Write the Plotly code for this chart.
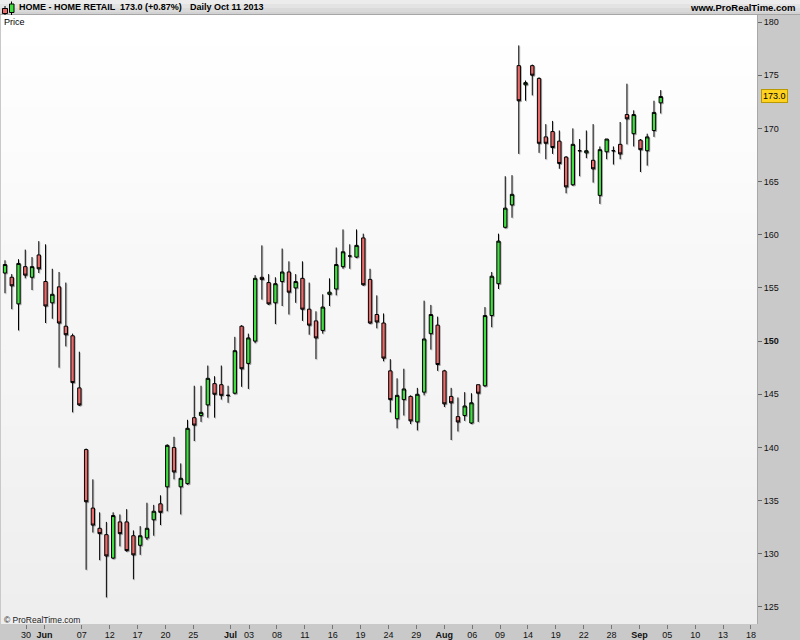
import plotly.graph_objects as go

# ---------------- data ----------------
opens = [156.4, 156.0, 153.5, 157.0, 156.0, 158.1, 155.6, 153.6, 155.1, 151.4,
         150.5, 145.6, 139.8, 134.3, 132.4, 131.8, 129.6, 133.0, 133.0, 131.7,
         130.8, 131.5, 133.2, 134.7, 136.3, 140.0, 136.3, 136.6, 142.8, 143.0,
         144.0, 146.0, 145.9, 144.9, 145.1, 151.4, 147.9, 150.0, 156.0, 155.5,
         153.6, 155.6, 156.5, 155.0, 155.9, 153.0, 151.9, 151.0, 154.4, 154.9,
         157.0, 158.0, 157.9, 159.7, 155.8, 152.5, 151.7, 147.2, 142.7, 144.5,
         144.8, 142.4, 145.2, 150.7, 151.5, 147.2, 144.8, 142.9, 143.0, 142.3,
         145.9, 145.8, 152.4, 155.4, 160.7, 162.8, 175.9, 174.1, 175.9, 174.7,
         169.2, 169.7, 168.8, 167.3, 164.7, 167.9, 167.7, 167.0, 163.7, 167.8,
         167.9, 168.5, 171.3, 169.5, 168.9, 167.9, 169.8, 172.4]
highs = [157.6, 156.3, 157.7, 158.6, 157.9, 159.4, 159.1, 156.8, 156.5, 155.5,
         150.7, 149.0, 139.9, 137.0, 133.9, 133.0, 133.9, 133.7, 134.2, 132.2,
         132.6, 134.8, 134.6, 135.5, 140.3, 141.0, 138.5, 142.6, 145.8, 145.8,
         147.7, 146.7, 147.7, 145.8, 150.4, 151.5, 150.7, 156.2, 159.0, 156.3,
         156.0, 158.7, 157.5, 156.3, 157.5, 155.5, 152.8, 154.4, 155.9, 158.8,
         160.5, 159.1, 160.5, 160.1, 156.8, 154.3, 152.6, 148.3, 146.5, 147.4,
         144.9, 145.6, 153.8, 153.4, 152.3, 147.3, 145.6, 144.7, 145.2, 145.1,
         145.9, 153.2, 156.5, 160.1, 165.5, 165.6, 177.8, 174.5, 176.0, 174.8,
         170.4, 170.7, 169.8, 167.4, 170.0, 169.0, 169.8, 170.4, 168.3, 169.0,
         168.3, 170.6, 174.2, 171.7, 169.0, 169.5, 172.6, 173.6]
lows = [154.5, 153.0, 151.0, 155.9, 154.8, 156.4, 151.7, 152.1, 147.5, 149.5,
        143.3, 143.9, 128.5, 132.0, 129.4, 125.9, 129.5, 130.7, 130.2, 127.6,
        129.9, 131.3, 131.7, 132.7, 134.0, 137.0, 133.7, 136.5, 140.6, 142.4,
        142.8, 142.8, 144.5, 144.2, 145.0, 145.7, 145.5, 149.8, 153.9, 153.4,
        151.6, 153.3, 152.5, 153.6, 151.9, 150.6, 148.3, 150.7, 153.3, 154.3,
        156.8, 156.8, 157.8, 155.2, 151.6, 151.2, 148.1, 143.3, 141.8, 143.0,
        142.2, 141.6, 144.9, 149.2, 147.2, 143.8, 140.7, 141.5, 142.5, 142.2,
        142.4, 145.7, 151.3, 154.9, 160.6, 161.6, 167.6, 172.6, 173.1, 167.7,
        167.1, 167.6, 166.2, 163.9, 164.6, 165.5, 167.2, 164.9, 162.9, 167.1,
        166.6, 167.1, 168.5, 168.3, 165.9, 166.5, 169.2, 171.4]
closes = [157.2, 155.2, 157.3, 156.2, 157.0, 156.8, 153.3, 154.4, 151.7, 150.6,
          146.1, 144.0, 134.9, 132.7, 131.9, 129.8, 133.6, 131.9, 130.3, 129.9,
          131.7, 132.4, 134.0, 133.9, 140.2, 137.7, 137.1, 141.8, 142.1, 143.3,
          146.5, 145.0, 144.9, 144.9, 149.1, 147.4, 150.3, 155.9, 155.8, 153.5,
          155.4, 156.5, 154.6, 155.6, 153.0, 151.5, 150.3, 153.2, 154.6, 157.2,
          158.4, 158.0, 159.0, 155.3, 151.7, 151.8, 148.4, 144.5, 144.9, 145.5,
          142.5, 145.0, 150.2, 152.5, 147.8, 144.1, 144.2, 142.4, 143.9, 144.2,
          145.1, 152.4, 156.1, 159.4, 162.5, 163.8, 172.6, 174.3, 175.0, 168.6,
          168.6, 168.2, 166.7, 164.5, 168.5, 167.9, 167.9, 166.2, 168.0, 169.0,
          167.9, 167.6, 170.9, 171.3, 168.0, 169.2, 171.5, 173.0]
bar_index = list(range(len(opens)))

# date axis (trading-day counts from 30 May) and its labels
tick_days = [0, 2, 6, 9, 12, 15, 18, 22, 24, 27, 30, 33, 36, 39, 42,
             45, 48, 51, 54, 57, 60, 63, 66, 69, 72, 75, 78]
tick_labels = ["30", "<b>Jun</b>", "07", "12", "17", "20", "25", "<b>Jul</b>", "03",
               "08", "11", "16", "19", "24", "29", "<b>Aug</b>", "06", "09", "14",
               "19", "22", "28", "<b>Sep</b>", "05", "10", "13", "18"]
y_ticks = [125, 130, 135, 140, 145, 150, 155, 160, 165, 170, 175, 180]
y_tick_text = ["<b>150</b>" if v == 150 else str(v) for v in y_ticks]
last_price = 173.0
title_name = "HOME - HOME RETAIL"
title_change = "173.0 (+0.87%)"
title_period = "Daily"
title_date = "Oct 11 2013"

# ---------------- style / geometry ----------------
W, H = 800, 640
ML, MR, MT, MB = 1, 43, 15, 16
PW, PH = W - ML - MR, H - MT - MB
X_RANGE = [-0.59, 111.24]
DAY_RANGE = [-2.69, 78.65]
Y_RANGE = [123.40, 180.66]
SHX = (X_RANGE[1] - X_RANGE[0]) / PW * 1.0   # 1px shadow shift
SHY = (Y_RANGE[1] - Y_RANGE[0]) / PH * 1.0
FONT = "Liberation Sans, Arial, sans-serif"
INC_FILL = "#40de40"
DEC_FILL = "#ea6a6a"


def pxx(px):
    return (px - ML) / PW


def pxy(py):
    return (H - MB - py) / PH


fig = go.Figure()

# shadow candles (base axes, shifted 1px right / down)
shadow = "rgba(70,70,70,0.32)"
fig.add_trace(go.Candlestick(
    x=bar_index, open=opens, high=highs, low=lows, close=closes,
    xaxis="x", yaxis="y",
    increasing=dict(line=dict(color=shadow, width=1), fillcolor=shadow),
    decreasing=dict(line=dict(color=shadow, width=1), fillcolor=shadow),
    hoverinfo="skip", showlegend=False))

# invisible trace to carry the date axis
fig.add_trace(go.Scatter(x=[tick_days[0], tick_days[-1]], y=[last_price, last_price],
                         xaxis="x2", yaxis="y2", mode="markers", marker=dict(opacity=0),
                         hoverinfo="skip", showlegend=False))

# main candles (overlay axes, drawn on top)
fig.add_trace(go.Candlestick(
    x=bar_index, open=opens, high=highs, low=lows, close=closes,
    xaxis="x3", yaxis="y2",
    increasing=dict(line=dict(color="#000000", width=1), fillcolor=INC_FILL),
    decreasing=dict(line=dict(color="#000000", width=1), fillcolor=DEC_FILL),
    showlegend=False, name="HOME"))

shapes = []
# plot-area vertical gradient
N = 40
for k in range(N):
    t = k / (N - 1)
    c = int(round(238 + (255 - 238) * t))
    shapes.append(dict(type="rect", xref="paper", yref="paper", x0=0, x1=1,
                       y0=k / N, y1=(k + 1) / N + 0.002, layer="below",
                       line=dict(width=0), fillcolor=f"rgb({c},{c},{c})"))
# title bar
bands = [(0, 4, "#ececec"), (4, 8, "#e3e3e3"), (8, 12, "#dadada"), (12, 14, "#d2d2d2"),
         (14, 15, "#a6a6a6")]
for y0, y1, col in bands:
    shapes.append(dict(type="rect", xref="paper", yref="paper", x0=pxx(0), x1=pxx(800),
                       y0=pxy(y1), y1=pxy(y0), line=dict(width=0), fillcolor=col,
                       layer="above"))
# icon in title bar
shapes += [
    dict(type="line", xref="paper", yref="paper", x0=pxx(5), x1=pxx(5),
         y0=pxy(15), y1=pxy(6), line=dict(color="#000", width=1)),
    dict(type="rect", xref="paper", yref="paper", x0=pxx(2.5), x1=pxx(7.5),
         y0=pxy(13.5), y1=pxy(8.5), line=dict(color="#000", width=1), fillcolor=DEC_FILL),
    dict(type="line", xref="paper", yref="paper", x0=pxx(11.5), x1=pxx(11.5),
         y0=pxy(15), y1=pxy(1.5), line=dict(color="#000", width=1)),
    dict(type="rect", xref="paper", yref="paper", x0=pxx(9.5), x1=pxx(14),
         y0=pxy(12.5), y1=pxy(4), line=dict(color="#000", width=1), fillcolor=INC_FILL),
]


def label(x, y, text, anchor="left", size=9, color="#000"):
    return dict(xref="paper", yref="paper", x=x, y=y, xanchor=anchor, yanchor="middle",
                text=text, showarrow=False, font=dict(family=FONT, size=size, color=color))


annotations = [
    label(pxx(17), pxy(7.5), f"<b>{title_name}</b>"),
    label(pxx(118), pxy(7.5), f"<b>{title_change}</b>"),
    label(pxx(188), pxy(7.5), f"<b>{title_period}</b>"),
    label(pxx(212), pxy(7.5), f"<b>{title_date}</b>"),
    label(pxx(798), pxy(7.5), "<b>www.ProRealTime.com</b>", anchor="right", size=9.5),
    label(pxx(2), pxy(22), "Price"),
    label(pxx(2), pxy(620), "© ProRealTime.com", size=8.5, color="#222"),
    dict(xref="paper", yref="y2", x=pxx(774), y=last_price, xanchor="center", yanchor="middle",
         text=f"{last_price:.1f}", showarrow=False, bgcolor="#ffd21f", bordercolor="#b89a00",
         borderwidth=1, borderpad=1, font=dict(family=FONT, size=9, color="#000")),
]

fig.update_layout(
    width=W, height=H,
    margin=dict(l=ML, r=MR, t=MT, b=MB, pad=0, autoexpand=False),
    paper_bgcolor="#c9c9c9", plot_bgcolor="#ffffff",
    font=dict(family=FONT, size=9, color="#000"),
    showlegend=False,
    shapes=shapes, annotations=annotations,
    xaxis=dict(range=[X_RANGE[0] - SHX, X_RANGE[1] - SHX], visible=False,
               rangeslider=dict(visible=False), fixedrange=True, automargin=False),
    yaxis=dict(range=[Y_RANGE[0] + SHY, Y_RANGE[1] + SHY], visible=False,
               fixedrange=True, automargin=False),
    xaxis2=dict(range=DAY_RANGE, overlaying="x", side="bottom", anchor="y",
                tickmode="array", tickvals=tick_days, ticktext=tick_labels,
                ticks="outside", ticklen=4, tickcolor="#777", showgrid=False,
                zeroline=False, showline=False, ticklabelstandoff=-2,
                tickfont=dict(family=FONT, size=9, color="#111"),
                fixedrange=True, automargin=False),
    xaxis3=dict(range=X_RANGE, overlaying="x", visible=False,
                rangeslider=dict(visible=False), fixedrange=True, automargin=False),
    yaxis2=dict(range=Y_RANGE, overlaying="y", side="right", anchor="x",
                tickmode="array", tickvals=y_ticks, ticktext=y_tick_text,
                ticks="outside", ticklen=4, tickcolor="#666",
                showgrid=False, zeroline=False, showline=True, linecolor="#a8a8a8",
                tickfont=dict(family=FONT, size=9, color="#111"),
                fixedrange=True, automargin=False),
)

fig.write_html("out.html", config={"displayModeBar": False},
               post_script="document.body.style.margin='0px';document.body.style.padding='0px';")
